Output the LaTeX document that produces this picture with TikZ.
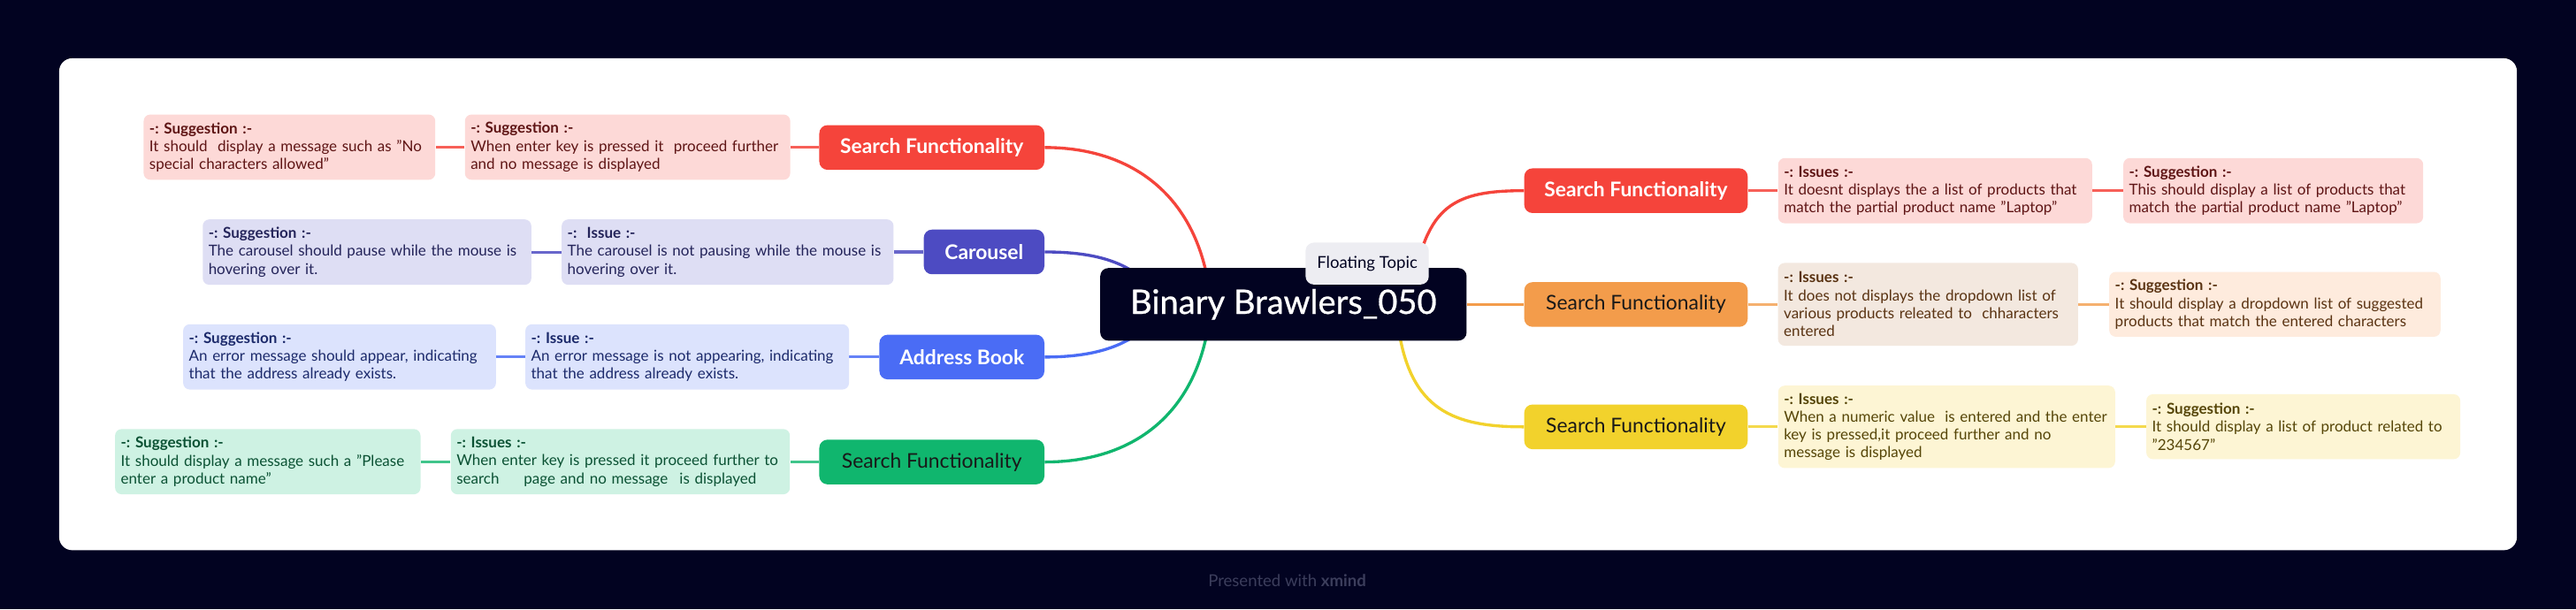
\documentclass[tikz,border=0pt]{standalone}
\usepackage{fontspec}
\setmainfont{Lato}
\newfontfamily\ttlfont[FakeBold=0.7]{Lato}
\frenchspacing
\definecolor{bgdark}{HTML}{020321}
\definecolor{cred}{HTML}{F5443B}
\definecolor{credl}{HTML}{FDD9D7}
\definecolor{credt}{HTML}{5E1414}
\definecolor{cind}{HTML}{4D4BC2}
\definecolor{cindl}{HTML}{DEDEF4}
\definecolor{cindt}{HTML}{24245A}
\definecolor{cblu}{HTML}{4A6CF5}
\definecolor{cblul}{HTML}{DCE3FD}
\definecolor{cblut}{HTML}{1C2A6B}
\definecolor{cgrn}{HTML}{10B66E}
\definecolor{cgrnl}{HTML}{CEF2E3}
\definecolor{cgrnt}{HTML}{0B5234}
\definecolor{corg}{HTML}{F39C4B}
\definecolor{corgl}{HTML}{F3E8DF}
\definecolor{corgs}{HTML}{FEEBDD}
\definecolor{corgt}{HTML}{5A3312}
\definecolor{cyel}{HTML}{F2D22C}
\definecolor{cyell}{HTML}{FDF5D4}
\definecolor{cyelt}{HTML}{554507}
\definecolor{cfloat}{HTML}{EDEDF2}
\definecolor{cpres}{HTML}{3C3E5C}
\newcommand\nfnt{\fontsize{9.15}{10.9}\selectfont\frenchspacing}
\pgfdeclarelayer{back}
\pgfdeclarelayer{lines}
\pgfsetlayers{back,lines,main}
\begin{document}
\begin{tikzpicture}[x=1pt,y=-1pt,
  note/.style={rounded corners=4pt, inner xsep=3.5pt, inner ysep=2pt, align=left, font=\nfnt},
  branch/.style={rounded corners=5pt, minimum height=27.2pt, inner sep=0pt, font=\fontsize{12.3}{14}\selectfont},
  curve/.style={line width=1.8pt},
  link/.style={line width=1.7pt}]
\useasboundingbox (0,0) rectangle (1568,370.9);
\begin{pgfonlayer}{back}
\fill[bgdark] (0,0) rectangle (1568,370.9);
\fill[white, rounded corners=8pt] (36,35.5) rectangle (1532,335);
\end{pgfonlayer}

% central
\node[fill=bgdark, rounded corners=5pt, minimum width=223pt, minimum height=44.2pt, inner sep=0pt,
  text=white, font=\ttlfont\fontsize{20.5}{24}\selectfont] (c) at (781.2,185.3) {Binary Brawlers\_050};
\node[fill=cfloat, rounded corners=5pt, minimum width=75pt, minimum height=25.5pt, inner sep=0pt,
  text=bgdark, font=\fontsize{10}{12}\selectfont] (ft) at (832.2,160.5) {Floating Topic};

% left side
\node[branch, fill=cred, text=white, minimum width=137pt, font=\fontsize{12.3}{14}\selectfont\bfseries] (l1) at (567.2,89.8) {Search Functionality};
\node[note, fill=credl, text=credt, text width=191pt, minimum height=39.7pt] (l1i) at (382,89.6)
  {\textbf{-: Suggestion :-}\\When enter key is pressed it\ \ proceed further\\and no message is displayed};
\node[note, fill=credl, text=credt, text width=170.5pt, minimum height=39.7pt] (l1o) at (176.2,89.6)
  {\textbf{-: Suggestion :-}\\It should\ \ display a message such as "No\\special characters allowed"};

\node[branch, fill=cind, text=white, minimum width=73.4pt, font=\fontsize{12.3}{14}\selectfont\bfseries] (l2) at (599,153.4) {Carousel};
\node[note, fill=cindl, text=cindt, text width=195pt, minimum height=39.8pt] (l2i) at (442.9,153.5)
  {\textbf{-:\ \ Issue :-}\\The carousel is not pausing while the mouse is\\hovering over it.};
\node[note, fill=cindl, text=cindt, text width=193pt, minimum height=39.8pt] (l2o) at (223.4,153.5)
  {\textbf{-: Suggestion :-}\\The carousel should pause while the mouse is\\hovering over it.};

\node[branch, fill=cblu, text=white, minimum width=100.4pt, font=\fontsize{12.3}{14}\selectfont\bfseries] (l3) at (585.5,217.4) {Address Book};
\node[note, fill=cblul, text=cblut, text width=190pt, minimum height=39.7pt] (l3i) at (418.3,217.3)
  {\textbf{-: Issue :-}\\An error message is not appearing, indicating\\that the address already exists.};
\node[note, fill=cblul, text=cblut, text width=183.4pt, minimum height=39.7pt] (l3o) at (206.7,217.3)
  {\textbf{-: Suggestion :-}\\An error message should appear, indicating\\that the address already exists.};

\node[branch, fill=cgrn, text=black!90, minimum width=137pt] (l4) at (567.2,281.3) {Search Functionality};
\node[note, fill=cgrnl, text=cgrnt, text width=199.4pt, minimum height=39.7pt] (l4i) at (377.6,281.1)
  {\textbf{-: Issues :-}\\When enter key is pressed it proceed further to\\search\hspace{15pt}page and no message\hspace{7pt}is displayed};
\node[note, fill=cgrnl, text=cgrnt, text width=178.9pt, minimum height=39.7pt] (l4o) at (163,281.1)
  {\textbf{-: Suggestion :-}\\It should display a message such a "Please\\enter a product name"};

% right side
\node[branch, fill=cred, text=white, minimum width=136pt, font=\fontsize{12.3}{14}\selectfont\bfseries] (r1) at (995.8,116.1) {Search Functionality};
\node[note, fill=credl, text=credt, text width=184.1pt, minimum height=39.7pt] (r1i) at (1177.9,116.1)
  {\textbf{-: Issues :-}\\It doesnt displays the a list of products that\\match the partial product name "Laptop"};
\node[note, fill=credl, text=credt, text width=175.5pt, minimum height=39.7pt] (r1s) at (1383.7,116.1)
  {\textbf{-: Suggestion :-}\\This should display a list of products that\\match the partial product name "Laptop"};

\node[branch, fill=corg, text=black!90, minimum width=136pt] (r2) at (995.8,185.4) {Search Functionality};
\node[note, fill=corgl, text=corgt, text width=175.6pt, minimum height=50.4pt] (r2i) at (1173.6,185.3)
  {\textbf{-: Issues :-}\\It does not displays the dropdown list of\\various products releated to\ \ chharacters\\entered};
\node[note, fill=corgs, text=corgt, text width=194.6pt, minimum height=39.5pt] (r2s) at (1384.7,185.3)
  {\textbf{-: Suggestion :-}\\It should display a dropdown list of suggested\\products that match the entered characters};

\node[branch, fill=cyel, text=black!90, minimum width=136pt] (r3) at (995.8,259.9) {Search Functionality};
\node[note, fill=cyell, text=cyelt, text width=198.1pt, minimum height=50.2pt] (r3i) at (1184.9,259.9)
  {\textbf{-: Issues :-}\\When a numeric value\ \ is entered and the enter\\key is pressed,it proceed further and no\\message is displayed};
\node[note, fill=cyell, text=cyelt, text width=184.1pt, minimum height=39.5pt] (r3s) at (1402,259.8)
  {\textbf{-: Suggestion :-}\\It should display a list of product related to\\"234567"};

\node[text=cpres, font=\fontsize{10}{12}\selectfont, inner sep=0pt] (pw) at (783.5,353.5) {Presented with \textbf{xmind}};

% connector start/end points under the central topic
\coordinate (cl1) at (736,176);
\coordinate (cl2) at (702,176);
\coordinate (cl3) at (702,195);
\coordinate (cl4) at (736,195);
\coordinate (cr1) at (860,176);
\coordinate (cr3) at (851,198);

\begin{pgfonlayer}{lines}
\draw[curve, cred] (l1.east) .. controls (690,89.8) and (728,120) .. (cl1);
\draw[curve, cind] (l2.east) .. controls (668,153.4) and (688,160) .. (cl2);
\draw[curve, cblu] (l3.east) .. controls (668,217.4) and (688,210) .. (cl3);
\draw[curve, cgrn] (l4.east) .. controls (690,281.3) and (728,252) .. (cl4);
\draw[curve, cred] (cr1) .. controls (868,125) and (885,116.1) .. (r1.west);
\draw[curve, corg] (c.east |- r2.west) -- (r2.west);
\draw[curve, cyel] (cr3) .. controls (858,250) and (885,259.9) .. (r3.west);

\draw[link, cred!85] (l1.west) -- (l1.west -| l1i.east);
\draw[link, cred!85] (l1i.west) -- (l1i.west -| l1o.east);
\draw[link, cind!85] (l2.west) -- (l2.west -| l2i.east);
\draw[link, cind!85] (l2i.west) -- (l2i.west -| l2o.east);
\draw[link, cblu!85] (l3.west) -- (l3.west -| l3i.east);
\draw[link, cblu!85] (l3i.west) -- (l3i.west -| l3o.east);
\draw[link, cgrn!80] (l4.west) -- (l4.west -| l4i.east);
\draw[link, cgrn!80] (l4i.west) -- (l4i.west -| l4o.east);
\draw[link, cred!85] (r1.east) -- (r1.east -| r1i.west);
\draw[link, cred!85] (r1i.east) -- (r1i.east -| r1s.west);
\draw[link, corg!80] (r2.east) -- (r2.east -| r2i.west);
\draw[link, corg!80] (r2i.east) -- (r2i.east -| r2s.west);
\draw[link, cyel!85] (r3.east) -- (r3.east -| r3i.west);
\draw[link, cyel!85] (r3i.east) -- (r3i.east -| r3s.west);
\end{pgfonlayer}
\end{tikzpicture}
\end{document}
